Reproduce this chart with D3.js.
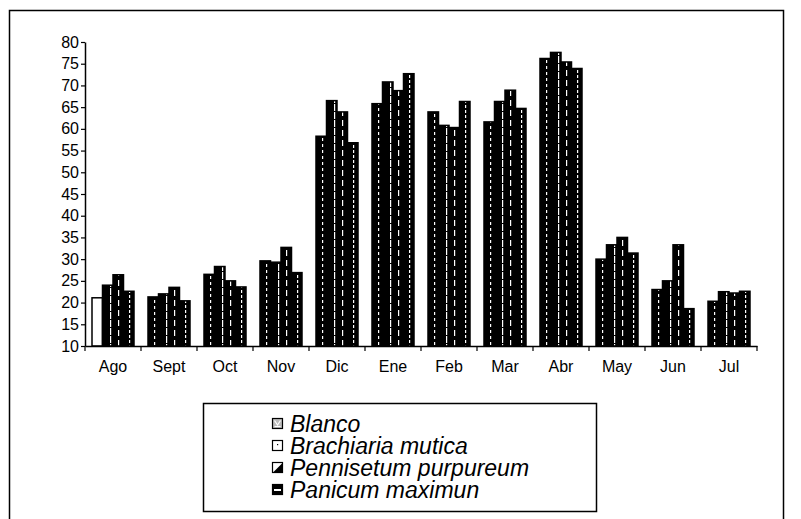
<!DOCTYPE html>
<html>
<head>
<meta charset="utf-8">
<script src="https://cdn.jsdelivr.net/npm/d3@7/dist/d3.min.js"></script>
<style>
  html, body { margin: 0; padding: 0; background: #fff; }
  svg { display: block; font-family: Arial, "Liberation Sans", sans-serif; }
</style>
</head>
<body>
<svg id="chart" width="801" height="519"></svg>
<script>
// ---- data ----
const categories = ["Ago", "Sept", "Oct", "Nov", "Dic", "Ene", "Feb", "Mar", "Abr", "May", "Jun", "Jul"];
const seriesNames = ["Blanco", "Brachiaria mutica", "Pennisetum purpureum", "Panicum maximun"];
const blanco      = [21.1, 21.3, 26.5, 29.6, 58.3, 65.8, 63.9, 61.6, 76.2, 30.0, 23.0, 20.3];
const brachiaria  = [24.0, 22.0, 28.3, 29.3, 66.5, 70.8, 60.8, 66.3, 77.6, 33.3, 25.0, 22.5];
const pennisetum  = [26.4, 23.5, 25.0, 32.7, 63.9, 68.8, 60.3, 68.9, 75.4, 35.0, 33.3, 22.2];
const panicum     = [22.6, 20.4, 23.6, 26.9, 56.8, 72.7, 66.3, 64.7, 73.9, 31.4, 18.6, 22.6];
const yTicks = [10, 15, 20, 25, 30, 35, 40, 45, 50, 55, 60, 65, 70, 75, 80];
const seriesValues = [blanco, brachiaria, pennisetum, panicum];

const svg = d3.select("#chart");

// outer frame
svg.append("rect").attr("x", 9.5).attr("y", 10.5).attr("width", 774).attr("height", 530)
  .attr("fill", "none").attr("stroke", "#000").attr("stroke-width", 1.5);

const margin = { left: 85, top: 42, right: 757, bottom: 346 };

const x0 = d3.scaleBand().domain(categories).range([margin.left, margin.right])
  .paddingInner(0.25).paddingOuter(0.125);
const x1 = d3.scaleBand().domain(d3.range(seriesNames.length)).range([0, x0.bandwidth()]);
const y = d3.scaleLinear().domain([10, 80]).range([margin.bottom, margin.top]);

// patterns (aliased-looking dashed white lines on black)
const defs = svg.append("defs");
const patSpecs = [
  { w: 13, h: 6, dash: 3, off: 6 },
  { w: 15, h: 8, dash: 7, off: 3 },
  { w: 17, h: 10, dash: 6, off: 9 },
  { w: 11, h: 5, dash: 3, off: 4 }
];
patSpecs.forEach((p, i) => {
  const pat = defs.append("pattern").attr("id", "pat" + i)
    .attr("patternUnits", "userSpaceOnUse").attr("width", p.w).attr("height", p.h);
  pat.append("rect").attr("width", p.w).attr("height", p.h).attr("fill", "#000");
  pat.append("rect").attr("x", p.off).attr("y", 0).attr("width", 1.2).attr("height", p.dash).attr("fill", "#fff");
});

// bars
const groups = svg.append("g").selectAll("g").data(categories).join("g")
  .attr("transform", d => `translate(${x0(d)},0)`);
groups.selectAll("rect")
  .data((c, ci) => seriesValues.map((vals, si) => ({ c, ci, si, v: vals[ci] })))
  .join("rect")
  .attr("x", d => x1(d.si))
  .attr("y", d => y(d.v))
  .attr("width", x1.bandwidth())
  .attr("height", d => y(10) - y(d.v))
  .attr("fill", d => (d.ci === 0 && d.si === 0) ? "#fff" : `url(#pat${d.si})`)
  .attr("stroke", "#000")
  .attr("stroke-width", 1.5);

// y axis
const yAxis = d3.axisLeft(y).tickValues(yTicks).tickSize(4).tickSizeOuter(0).tickPadding(2);
const gy = svg.append("g").attr("transform", `translate(${margin.left},0)`).call(yAxis);
gy.select(".domain").attr("stroke-width", 1.5);
gy.selectAll(".tick line").attr("stroke-width", 1.2);
gy.selectAll("text").attr("font-size", 16).attr("fill", "#000");

// x axis
const xAxis = d3.axisBottom(x0).tickSize(0).tickPadding(15);
const gx = svg.append("g").attr("transform", `translate(0,${margin.bottom})`).call(xAxis);
gx.select(".domain").attr("stroke-width", 1.5);
gx.selectAll("text").attr("font-size", 16).attr("fill", "#000");
// ticks at category boundaries
const bounds = categories.map(c => x0(c) - x0.step() * x0.paddingOuter()).concat([margin.right]);
gx.selectAll(".bound").data(bounds).join("line").attr("class", "bound")
  .attr("x1", d => d).attr("x2", d => d).attr("y1", 0).attr("y2", 5)
  .attr("stroke", "#000").attr("stroke-width", 1.2);

// legend
const lg = svg.append("g");
lg.append("rect").attr("x", 203.5).attr("y", 403.5).attr("width", 393).attr("height", 108)
  .attr("fill", "#fff").attr("stroke", "#000").attr("stroke-width", 1.5);
const rowY = i => 424 + i * 22;
const items = lg.selectAll("g.item").data(seriesNames).join("g").attr("class", "item")
  .attr("transform", (d, i) => `translate(272,${rowY(i)})`);
items.append("rect").attr("x", 0.5).attr("y", -5.5).attr("width", 10).attr("height", 10)
  .attr("fill", (d, i) => i === 0 ? "#bbb" : "#fff").attr("stroke", "#000").attr("stroke-width", 1.2);
// icon details
items.filter((d, i) => i === 0).append("path").attr("d", "M2.5,-3.5 L5.5,1 L8.5,-3.5 M2.5,2.5 L8.5,2.5")
  .attr("stroke", "#fff").attr("stroke-width", 1.2).attr("fill", "none");
items.filter((d, i) => i === 1).append("rect").attr("x", 5).attr("y", -2).attr("width", 1.2).attr("height", 1.2).attr("fill", "#000");
items.filter((d, i) => i === 2).append("path").attr("d", "M1,4.5 L10.5,-5 L10.5,4.5 Z").attr("fill", "#000");
items.filter((d, i) => i === 3).append("rect").attr("x", 0.5).attr("y", -5.5).attr("width", 10).attr("height", 10).attr("fill", "#000");
items.filter((d, i) => i === 3).append("rect").attr("x", 2).attr("y", -1).attr("width", 7).attr("height", 2).attr("fill", "#fff");
items.append("text").attr("x", 18).attr("y", 8).attr("font-size", 23).attr("font-style", "italic")
  .attr("fill", "#000").text(d => d);
</script>
</body>
</html>
